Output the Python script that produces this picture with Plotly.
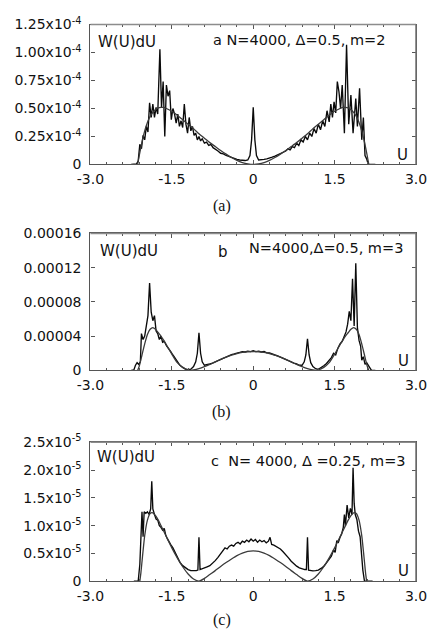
import plotly.graph_objects as go

FIG_W, FIG_H = 444, 630
SCALE = 1e-5  # all W values below are in units of 1e-5

# ---------------- Panel (a): N=4000, Delta=0.5, m=2 ----------------
A_U_NUM = [-2.25, -2.20, -2.15, -2.12, -2.09, -2.06, -2.03, -2.00, -1.97, -1.94,
           -1.91, -1.88, -1.85, -1.82, -1.79, -1.76, -1.72, -1.69, -1.66, -1.63,
           -1.60, -1.57, -1.54, -1.51, -1.48, -1.45, -1.42, -1.39, -1.36, -1.33,
           -1.30, -1.27, -1.24, -1.21, -1.18, -1.15, -1.12, -1.09, -1.06, -1.03,
           -1.00, -0.97, -0.94, -0.90, -0.86, -0.82, -0.78, -0.74, -0.70, -0.65,
           -0.60, -0.55, -0.50, -0.45, -0.40, -0.35, -0.30, -0.25, -0.20, -0.15,
           -0.10, -0.06, -0.03, 0.00, 0.03, 0.06, 0.10, 0.15, 0.20, 0.25,
           0.30, 0.35, 0.40, 0.45, 0.50, 0.55, 0.60, 0.64, 0.68, 0.72,
           0.76, 0.80, 0.84, 0.88, 0.92, 0.96, 1.00, 1.04, 1.08, 1.12,
           1.16, 1.20, 1.24, 1.28, 1.32, 1.36, 1.40, 1.43, 1.46, 1.49,
           1.52, 1.55, 1.58, 1.61, 1.64, 1.68, 1.72, 1.76, 1.80, 1.84,
           1.89, 1.92, 1.96, 2.00, 2.03, 2.06, 2.09, 2.12, 2.20, 2.25]
A_W_NUM = [0, 0, 0.05, 0.3, 1.8, 1.4, 2.6, 2.2, 3.4, 2.9,
           5.5, 4.2, 5.4, 4.2, 5.1, 4.5, 10.3, 5.1, 7.4, 2.5,
           7.1, 6.1, 6.6, 4.0, 5.0, 4.5, 3.7, 4.5, 3.4, 3.9,
           3.3, 5.4, 3.6, 2.8, 4.2, 3.0, 3.4, 2.6, 2.8, 2.2,
           2.5, 2.1, 2.3, 1.9, 2.0, 1.7, 1.8, 1.5, 1.4, 1.2,
           1.0, 0.95, 0.8, 0.7, 0.6, 0.5, 0.45, 0.4, 0.35, 0.35,
           0.4, 0.8, 2.2, 5.1, 2.2, 0.8, 0.4, 0.4, 0.45, 0.5,
           0.55, 0.65, 0.75, 0.85, 0.95, 1.1, 1.2, 1.4, 1.3, 1.6,
           1.5, 1.9, 1.7, 2.2, 2.0, 2.5, 2.2, 2.8, 2.5, 3.2,
           2.8, 3.6, 3.1, 3.9, 3.4, 4.8, 3.8, 5.4, 4.2, 5.6,
           4.6, 7.4, 6.5, 5.0, 7.1, 2.8, 10.7, 3.6, 6.2, 2.8,
           5.9, 3.4, 6.8, 2.2, 4.2, 0.8, 0.5, 0.0, 0, 0]
A_U_TH = [-2.13, -2.10, -2.05, -2.00, -1.95, -1.90, -1.85, -1.80, -1.75, -1.70,
          -1.65, -1.60, -1.50, -1.40, -1.30, -1.20, -1.10, -1.00, -0.90, -0.80,
          -0.70, -0.60, -0.50, -0.40, -0.30, -0.20, -0.10, 0.00, 0.10, 0.20,
          0.30, 0.40, 0.50, 0.60, 0.70, 0.80, 0.90, 1.00, 1.10, 1.20,
          1.30, 1.40, 1.50, 1.60, 1.65, 1.70, 1.75, 1.80, 1.85, 1.90,
          1.95, 2.00, 2.05, 2.10, 2.13]
A_W_TH = [0, 0.8, 2.0, 3.0, 3.75, 4.3, 4.65, 4.9, 5.05, 5.1,
          5.1, 5.0, 4.75, 4.4, 4.0, 3.6, 3.2, 2.75, 2.35, 1.95,
          1.6, 1.25, 0.92, 0.62, 0.36, 0.17, 0.05, 0.0, 0.05, 0.17,
          0.36, 0.62, 0.92, 1.25, 1.6, 1.95, 2.35, 2.75, 3.2, 3.6,
          4.0, 4.4, 4.75, 5.0, 5.1, 5.1, 5.05, 4.9, 4.65, 4.3,
          3.75, 3.0, 2.0, 0.8, 0]

# ---------------- Panel (b): N=4000, Delta=0.5, m=3 ----------------
B_U_NUM = [-2.25, -2.20, -2.17, -2.14, -2.11, -2.08, -2.06, -2.03, -2.00, -1.97,
           -1.94, -1.91, -1.88, -1.85, -1.82, -1.79, -1.76, -1.73, -1.70, -1.67,
           -1.64, -1.60, -1.56, -1.52, -1.48, -1.44, -1.40, -1.35, -1.30, -1.25,
           -1.20, -1.15, -1.10, -1.06, -1.03, -1.00, -0.97, -0.94, -0.90, -0.85,
           -0.80, -0.75, -0.70, -0.65, -0.60, -0.55, -0.50, -0.45, -0.40, -0.35,
           -0.30, -0.25, -0.20, -0.15, -0.10, -0.05, 0.00, 0.05, 0.10, 0.15,
           0.20, 0.25, 0.30, 0.35, 0.40, 0.45, 0.50, 0.55, 0.60, 0.65,
           0.70, 0.75, 0.80, 0.85, 0.90, 0.94, 0.97, 1.00, 1.03, 1.06,
           1.10, 1.15, 1.20, 1.25, 1.30, 1.35, 1.40, 1.44, 1.48, 1.52,
           1.56, 1.60, 1.64, 1.68, 1.71, 1.74, 1.77, 1.80, 1.83, 1.86,
           1.89, 1.92, 1.95, 1.98, 2.00, 2.03, 2.06, 2.09, 2.12, 2.15,
           2.18, 2.25]
B_W_NUM = [0, 0.05, 0.6, 0.9, 0.7, 1.0, 4.3, 3.6, 4.0, 5.5,
           6.4, 10.2, 6.8, 5.8, 6.4, 4.6, 4.3, 3.6, 4.0, 3.3,
           3.4, 2.9, 2.6, 2.2, 1.8, 1.4, 1.0, 0.6, 0.35, 0.15,
           0.08, 0.15, 0.45, 1.0, 2.0, 4.4, 2.0, 1.0, 0.6, 0.65,
           0.75, 0.85, 1.0, 1.15, 1.3, 1.45, 1.6, 1.72, 1.85, 1.92,
           2.05, 2.1, 2.2, 2.15, 2.25, 2.2, 2.3, 2.2, 2.25, 2.15,
           2.2, 2.05, 2.05, 1.9, 1.8, 1.7, 1.55, 1.45, 1.3, 1.15,
           1.0, 0.85, 0.75, 0.6, 0.6, 1.0, 1.8, 3.7, 1.8, 0.9,
           0.45, 0.2, 0.12, 0.3, 0.55, 0.8, 1.2, 1.5, 2.0, 1.8,
           2.6, 3.1, 3.4, 4.0, 4.5, 5.4, 6.9, 5.8, 10.7, 5.2,
           12.5, 5.0, 3.5, 2.8, 1.2, 1.6, 0.7, 0.9, 0.5, 0.3,
           0.0, 0]
B_U_TH = [-2.13, -2.10, -2.05, -2.00, -1.95, -1.90, -1.85, -1.80, -1.75, -1.70,
          -1.60, -1.50, -1.40, -1.30, -1.20, -1.15, -1.10, -1.00, -0.90, -0.80,
          -0.70, -0.60, -0.50, -0.40, -0.30, -0.20, -0.10, 0.00, 0.10, 0.20,
          0.30, 0.40, 0.50, 0.60, 0.70, 0.80, 0.90, 1.00, 1.10, 1.15,
          1.20, 1.30, 1.40, 1.50, 1.60, 1.70, 1.75, 1.80, 1.85, 1.90,
          1.95, 2.00, 2.05, 2.10, 2.13]
B_W_TH = [0, 0.5, 1.8, 3.1, 4.2, 4.8, 5.0, 4.8, 4.4, 4.0,
          3.0, 1.9, 0.9, 0.35, 0.05, 0.01, 0.05, 0.2, 0.43, 0.7,
          1.0, 1.28, 1.55, 1.78, 1.97, 2.1, 2.18, 2.2, 2.18, 2.1,
          1.97, 1.78, 1.55, 1.28, 1.0, 0.7, 0.43, 0.2, 0.05, 0.01,
          0.05, 0.35, 0.9, 1.9, 3.0, 4.0, 4.4, 4.8, 5.0, 4.8,
          4.2, 3.1, 1.8, 0.5, 0]

# ---------------- Panel (c): N=4000, Delta=0.25, m=3 ----------------
C_U_NUM = [-2.20, -2.12, -2.09, -2.07, -2.05, -2.03, -2.01, -1.98, -1.95, -1.92,
           -1.89, -1.87, -1.85, -1.82, -1.79, -1.76, -1.73, -1.70, -1.67, -1.64,
           -1.61, -1.58, -1.55, -1.52, -1.48, -1.44, -1.40, -1.35, -1.30, -1.25,
           -1.20, -1.15, -1.10, -1.05, -1.02, -1.00, -0.98, -0.95, -0.90, -0.85,
           -0.80, -0.75, -0.70, -0.65, -0.60, -0.55, -0.52, -0.48, -0.44, -0.40,
           -0.36, -0.32, -0.28, -0.24, -0.20, -0.16, -0.12, -0.08, -0.04, 0.00,
           0.04, 0.08, 0.12, 0.16, 0.20, 0.24, 0.28, 0.31, 0.34, 0.38,
           0.42, 0.46, 0.50, 0.55, 0.60, 0.65, 0.70, 0.75, 0.80, 0.85,
           0.90, 0.95, 0.98, 1.00, 1.02, 1.05, 1.10, 1.15, 1.20, 1.25,
           1.30, 1.35, 1.40, 1.44, 1.48, 1.51, 1.54, 1.57, 1.60, 1.63,
           1.66, 1.68, 1.70, 1.73, 1.76, 1.79, 1.82, 1.84, 1.86, 1.88,
           1.91, 1.94, 1.97, 2.00, 2.02, 2.05, 2.20]
C_W_NUM = [0, 0, 0.3, 0.9, 1.25, 0.8, 1.25, 1.22, 1.25, 1.2,
           1.3, 1.8, 1.3, 1.2, 1.12, 1.1, 1.0, 0.97, 0.92, 0.95,
           0.82, 0.76, 0.7, 0.66, 0.6, 0.52, 0.43, 0.34, 0.28, 0.24,
           0.21, 0.19, 0.185, 0.19, 0.2, 0.79, 0.21, 0.22, 0.23, 0.26,
           0.28, 0.32, 0.37, 0.43, 0.5, 0.55, 0.6, 0.58, 0.63, 0.65,
           0.63, 0.68, 0.7, 0.67, 0.72, 0.7, 0.74, 0.71, 0.76, 0.72,
           0.75, 0.7, 0.74, 0.71, 0.73, 0.69, 0.72, 0.79, 0.66, 0.65,
           0.63, 0.6, 0.58, 0.53, 0.48, 0.42, 0.36, 0.31, 0.27, 0.24,
           0.22, 0.21, 0.21, 0.79, 0.2, 0.19, 0.185, 0.19, 0.2, 0.23,
           0.27, 0.33, 0.39, 0.45, 0.56, 0.52, 0.73, 0.7, 0.79, 0.85,
           0.97, 1.2, 1.0, 1.37, 1.14, 1.31, 1.2, 2.04, 1.4, 1.2,
           1.11, 0.9, 0.8, 0.39, 0.2, 0.0, 0]
C_U_TH = [-2.09, -2.07, -2.04, -2.00, -1.95, -1.90, -1.85, -1.80, -1.75, -1.70,
          -1.60, -1.50, -1.40, -1.30, -1.20, -1.10, -1.00, -0.90, -0.80, -0.70,
          -0.60, -0.50, -0.40, -0.30, -0.20, -0.10, 0.00, 0.10, 0.20, 0.30,
          0.40, 0.50, 0.60, 0.70, 0.80, 0.90, 1.00, 1.10, 1.20, 1.30,
          1.40, 1.50, 1.60, 1.70, 1.75, 1.80, 1.85, 1.90, 1.95, 2.00,
          2.04, 2.07, 2.09]
C_W_TH = [0, 0.15, 0.45, 0.82, 1.1, 1.22, 1.23, 1.18, 1.1, 1.0,
          0.8, 0.6, 0.42, 0.26, 0.13, 0.04, 0.0, 0.05, 0.12, 0.19,
          0.265, 0.335, 0.40, 0.46, 0.505, 0.535, 0.545, 0.535, 0.505, 0.46,
          0.40, 0.335, 0.265, 0.19, 0.12, 0.05, 0.0, 0.04, 0.13, 0.26,
          0.42, 0.6, 0.8, 1.0, 1.1, 1.18, 1.23, 1.22, 1.1, 0.82,
          0.45, 0.15, 0]

# ---------------- Ticks and labels ----------------
X_TICKS = [-3.0, -1.5, 0.0, 1.5, 3.0]
X_TICK_TEXT = ["-3.0", "-1.5", "0", "1.5", "3.0"]
A_Y_TICKS = [0, 2.5e-5, 5.0e-5, 7.5e-5, 1.0e-4, 1.25e-4]
A_Y_TEXT = ["0", "0.25x10<sup>-4</sup>", "0.50x10<sup>-4</sup>", "0.75x10<sup>-4</sup>",
            "1.00x10<sup>-4</sup>", "1.25x10<sup>-4</sup>"]
B_Y_TICKS = [0, 4e-5, 8e-5, 1.2e-4, 1.6e-4]
B_Y_TEXT = ["0", "0.00004", "0.00008", "0.00012", "0.00016"]
C_Y_TICKS = [0, 0.5e-5, 1.0e-5, 1.5e-5, 2.0e-5, 2.5e-5]
C_Y_TEXT = ["0", "0.5x10<sup>-5</sup>", "1.0x10<sup>-5</sup>", "1.5x10<sup>-5</sup>",
            "2.0x10<sup>-5</sup>", "2.5x10<sup>-5</sup>"]

PANEL_TITLES = ["a N=4000, Δ=0.5, m=2", "N=4000,Δ=0.5, m=3", "c  N= 4000, Δ =0.25, m=3"]
CAPTIONS = ["(a)", "(b)", "(c)"]

for u, w in [(A_U_NUM, A_W_NUM), (A_U_TH, A_W_TH), (B_U_NUM, B_W_NUM), (B_U_TH, B_W_TH),
             (C_U_NUM, C_W_NUM), (C_U_TH, C_W_TH)]:
    assert len(u) == len(w), (len(u), len(w))

FONT = "DejaVu Sans, Arial, sans-serif"


def px(p):
    return p / FIG_W


def py(p):
    return 1 - p / FIG_H


panels = [
    dict(un=A_U_NUM, wn=A_W_NUM, ut=A_U_TH, wt=A_W_TH, yr=[0, 1.25e-4],
         yt=A_Y_TICKS, ytt=A_Y_TEXT, top=15, bot=159),
    dict(un=B_U_NUM, wn=B_W_NUM, ut=B_U_TH, wt=B_W_TH, yr=[0, 1.6e-4],
         yt=B_Y_TICKS, ytt=B_Y_TEXT, top=230, bot=371),
    dict(un=C_U_NUM, wn=C_W_NUM, ut=C_U_TH, wt=C_W_TH, yr=[0, 2.5e-5],
         yt=C_Y_TICKS, ytt=C_Y_TEXT, top=445, bot=588),
]

fig = go.Figure()
X_LEFT, X_RIGHT = 81, 426
layout = dict(width=FIG_W, height=FIG_H, margin=dict(l=0, r=0, t=0, b=0),
              paper_bgcolor="white", plot_bgcolor="white", showlegend=False,
              font=dict(family=FONT, color="#111"))
shapes = []
for i, p in enumerate(panels):
    sfx = "" if i == 0 else str(i + 1)
    xa, ya = "x" + sfx, "y" + sfx
    fig.add_trace(go.Scatter(x=p["un"], y=[v * SCALE for v in p["wn"]], mode="lines",
                             line=dict(color="#0a0a0a", width=1.35), xaxis=xa, yaxis=ya))
    fig.add_trace(go.Scatter(x=p["ut"], y=[v * SCALE for v in p["wt"]], mode="lines",
                             line=dict(color="#3a3a3a", width=1.3, shape="spline", smoothing=0.6),
                             xaxis=xa, yaxis=ya))
    layout["xaxis" + sfx] = dict(
        domain=[px(X_LEFT), px(X_RIGHT)], anchor=ya, range=[-3.0, 3.0],
        tickvals=X_TICKS, ticktext=X_TICK_TEXT, ticks="inside", ticklen=4, tickwidth=1,
        tickcolor="#555", showline=True, linecolor="#555", linewidth=1.3, mirror="ticks",
        showgrid=False, zeroline=False, tickfont=dict(family=FONT, size=14, color="#111"),
        minor=dict(dtick=0.3, tick0=0, ticks="inside", ticklen=2.5, tickcolor="#555"),
        ticklabelstandoff=2)
    layout["yaxis" + sfx] = dict(
        domain=[py(p["bot"]), py(p["top"])], anchor=xa, range=p["yr"],
        tickvals=p["yt"], ticktext=p["ytt"], ticks="inside", ticklen=4, tickwidth=1,
        tickcolor="#555", showline=True, linecolor="#555", linewidth=1.3, mirror="ticks",
        showgrid=False, zeroline=False, tickfont=dict(family=FONT, size=14, color="#111"),
        ticklabelstandoff=5)
    # lighter top / right frame lines like the reference
    shapes.append(dict(type="line", xref=xa + " domain", yref=ya + " domain", x0=0, x1=1, y0=1, y1=1,
                       line=dict(color="#8c8c8c", width=1.5), layer="above"))
    shapes.append(dict(type="line", xref=xa + " domain", yref=ya + " domain", x0=1, x1=1, y0=0, y1=1,
                       line=dict(color="#6e6e6e", width=1.5), layer="above"))

layout["shapes"] = shapes

ann = []


def txt(text, x, y, xanchor="left", size=15, family=FONT):
    ann.append(dict(text=text, x=px(x), y=py(y), xref="paper", yref="paper",
                    xanchor=xanchor, yanchor="middle", showarrow=False,
                    font=dict(family=family, size=size, color="#111")))


# panel a
txt("W(U)dU", 87, 33)
txt(PANEL_TITLES[0], 209, 31, size=14.5)
txt("U", 420, 149, xanchor="right")
# panel b
txt("W(U)dU", 89, 248)
txt("b", 221, 249, xanchor="center")
txt(PANEL_TITLES[1], 247, 245, size=14.5)
txt("U", 421, 361, xanchor="right")
# panel c
txt("W(U)dU", 86, 460)
txt(PANEL_TITLES[2], 207, 464, size=14.5)
txt("U", 421, 578, xanchor="right")
# captions
for cap, yc in zip(CAPTIONS, [202, 414, 628]):
    txt(cap, 220, yc, xanchor="center", size=16, family="Liberation Serif, Times New Roman, serif")

layout["annotations"] = ann
fig.update_layout(**layout)
fig.write_html("out.html")
